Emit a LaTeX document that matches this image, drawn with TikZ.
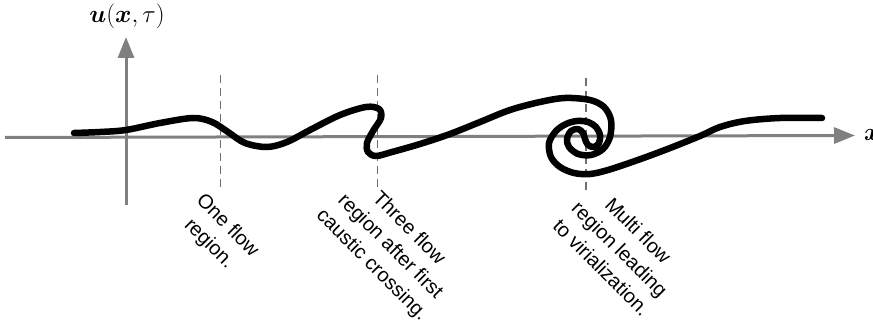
\documentclass[tikz,border=0pt]{standalone}
\usepackage{amsmath}
\usepackage{fontspec}
\setmainfont{Liberation Sans}
\usetikzlibrary{arrows.meta}
\definecolor{axisgray}{RGB}{128,128,128}
\definecolor{dashgray}{RGB}{110,110,110}
\tikzset{
  axisline/.style={line width=3pt, draw=axisgray, -{Triangle[length=21pt,width=16pt]}},
  guide/.style={line width=1.5pt, draw=dashgray, dash pattern=on 8pt off 5pt},
  flowcurve/.style={line width=6.5pt, line cap=round, line join=round},
  lbl/.style={rotate=-45, align=center, inner sep=0pt, font=\fontsize{20}{26}\selectfont},
  mathlbl/.style={inner sep=0pt, font=\fontsize{26}{30}\selectfont}
}
\begin{document}
\begin{tikzpicture}[x=1pt, y=-1pt]
\useasboundingbox (0,0) rectangle (873,320);
% axes
\coordinate (xs) at (5,137.5);
\coordinate (xe) at (855,135.5);
\coordinate (ys) at (126,205);
\coordinate (ye) at (126,37);
\draw[axisline] (xs) -- (xe);
\draw[axisline] (ys) -- (ye);
\node[mathlbl, anchor=west] (xl) at (864,135) {$\boldsymbol{x}$};
\node[mathlbl] (ul) at (127,16) {$\boldsymbol{u}(\boldsymbol{x},\tau)$};
% guides
\coordinate (g1a) at (220.5,75);
\coordinate (g1b) at (220.5,190);
\coordinate (g2a) at (377.5,75);
\coordinate (g2b) at (377.5,190);
\coordinate (g3a) at (586,78);
\coordinate (g3b) at (586,190);
\draw[guide] (g1a) -- (g1b);
\draw[guide] (g2a) -- (g2b);
\draw[guide] (g3a) -- (g3b);
% curve
\draw[flowcurve] plot[smooth, tension=0.55] coordinates {
(74,133) (100,132) (126,130) (160,123) (193,118) (212,122) (228,132) (245,143)
(267,147) (287,142) (310,130) (340,115) (366,107) (379,109) (381,118) (373,131)
(367,143) (368,152) (376,156) (392,152) (420,144) (450,134) (480,122) (510,110)
(540,102) (565,98) (590,100) (604,107) (611,120) (610,137) (603,149) (591,155)
(578,154) (569,147) (567,139) (571,131) (578,129) (583,133) (585,139) (588,145)
(594,147) (599,143) (600,135) (596,127) (588,122) (577,121) (566,124) (556,131)
(549,143) (551,157) (560,167) (574,173) (590,174) (608,170) (635,161) (665,150)
(700,136) (720,127) (745,121) (780,118) (822,118)};
% labels
\node[lbl] (t1) at (218,235) {One flow\\region.};
\node[lbl] (t2) at (390,247) {Three flow\\region after first\\caustic crossing.};
\node[lbl] (t3) at (620,249) {Multi flow\\region leading\\to virialization.};
\end{tikzpicture}
\end{document}
